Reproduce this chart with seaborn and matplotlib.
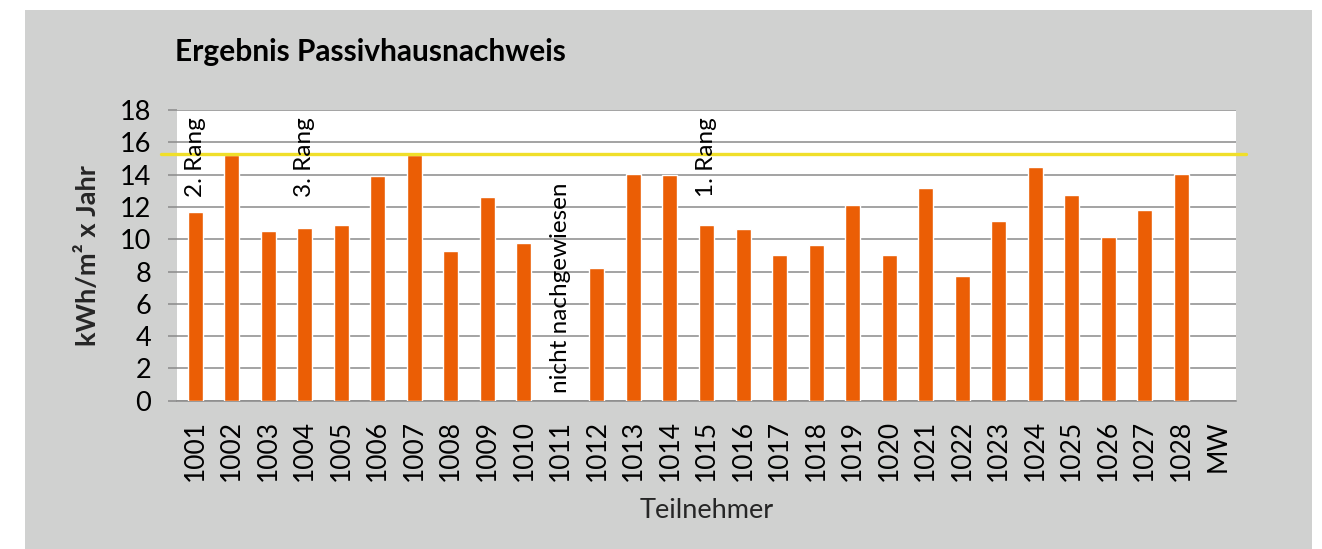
import numpy as np
import pandas as pd
import matplotlib
matplotlib.use("Agg")
import matplotlib.pyplot as plt
import seaborn as sns
from matplotlib.patches import Rectangle

# Daten
teilnehmer = ['1001', '1002', '1003', '1004', '1005', '1006', '1007', '1008', '1009', '1010',
              '1011', '1012', '1013', '1014', '1015', '1016', '1017', '1018', '1019', '1020',
              '1021', '1022', '1023', '1024', '1025', '1026', '1027', '1028', 'MW']
heizwaerme = [11.7, 15.2, 10.5, 10.7, 10.85, 13.9, 15.2, 9.25, 12.6, 9.75,
              np.nan, 8.2, 14.05, 13.95, 10.85, 10.65, 9.0, 9.65, 12.1, 9.0,
              13.2, 7.75, 11.1, 14.45, 12.75, 10.15, 11.8, 14.05, np.nan]
grenzwert = 15.25
rang_labels = {'1001': '2. Rang', '1004': '3. Rang', '1015': '1. Rang'}
nicht_label = ('1011', 'nicht nachgewiesen')

df = pd.DataFrame({'Teilnehmer': teilnehmer, 'Wert': heizwaerme})

sns.set_style("white")
plt.rcParams['font.family'] = ['Lato', 'DejaVu Sans']
plt.rcParams['text.color'] = 'black'

bg = '#d0d1d0'
orange = '#eb5e05'
gelb = '#f0df2a'
grid_c = '#8a8a8a'

fig = plt.figure(figsize=(13.22, 5.49), dpi=100, facecolor='white')
fig.patches.append(Rectangle((25 / 1322, 0), (1312 - 25) / 1322, 1 - 10 / 549,
                             transform=fig.transFigure, facecolor=bg, edgecolor='none', zorder=-10))
ax = fig.add_axes([177 / 1322, 1 - 400.7 / 549, (1236 - 177) / 1322, (400.7 - 110) / 549])
ax.set_facecolor('white')

sns.barplot(data=df, x='Teilnehmer', y='Wert', order=teilnehmer, color=orange,
            saturation=1, width=0.41, errorbar=None, ax=ax, zorder=3)

ax.set_xlim(-0.5, len(teilnehmer) - 0.5)
ax.set_ylim(0, 18)
ax.set_yticks(range(0, 19, 2))
ax.yaxis.grid(True, color=grid_c, linewidth=1.1, zorder=0)
ax.set_axisbelow(True)

for s in ['top', 'right', 'left']:
    ax.spines[s].set_visible(False)
ax.spines['bottom'].set_color(grid_c)
ax.spines['bottom'].set_linewidth(1.1)

ax.set_xticks(np.arange(-0.5, len(teilnehmer), 1), minor=True)
ax.tick_params(axis='x', which='minor', length=5, width=1, color=grid_c, direction='out')
ax.tick_params(axis='x', which='major', length=0, pad=14, labelsize=19, rotation=90,
               labelcolor='black')
ax.tick_params(axis='y', length=6.5, width=1.1, color=grid_c, pad=12, labelsize=19.5,
               labelcolor='black')
ax.tick_params(left=True, bottom=True)

ax.axhline(grenzwert, xmin=-0.015, xmax=1.0095, color=gelb, linewidth=2.4, clip_on=False, zorder=4)

for t, txt in rang_labels.items():
    ax.text(teilnehmer.index(t), 17.55, txt, rotation=90, ha='center', va='top', fontsize=17.5, zorder=5)
ax.text(teilnehmer.index(nicht_label[0]), 0.5, nicht_label[1], rotation=90, ha='center',
        va='bottom', fontsize=17.5, zorder=5)

ax.set_xlabel('Teilnehmer', fontsize=19.5, labelpad=12)
ax.set_ylabel('kWh/m² x Jahr', fontsize=19.5, fontweight='bold', labelpad=14)
fig.text(175 / 1322, 1 - 52 / 549, 'Ergebnis Passivhausnachweis', fontsize=21.5,
         fontweight='bold', ha='left', va='center')

fig.savefig('out.png', dpi=100, facecolor=fig.get_facecolor())
